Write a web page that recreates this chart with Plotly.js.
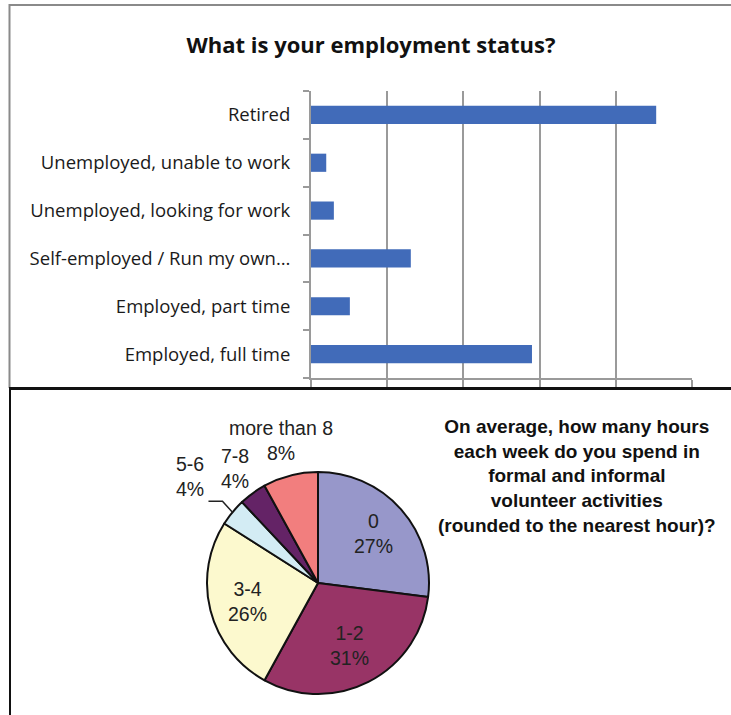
<!DOCTYPE html>
<html>
<head>
<meta charset="utf-8">
<script src="https://cdn.plot.ly/plotly-3.0.1.min.js"></script>
<style>html,body{margin:0;padding:0;background:#fff;}#chart{width:731px;height:715px;}</style>
</head>
<body>
<div id="chart"></div>
<script>
// Bar chart data (bottom to top)
var employmentCategories = ["Employed, full time", "Employed, part time", "Self-employed / Run my own…", "Unemployed, looking for work", "Unemployed, unable to work", "Retired"];
var employmentValues = [29.0, 5.1, 13.1, 3.0, 2.0, 45.3];
var barTitle = "What is your employment status?";

// Pie chart data (clockwise from 12 o'clock)
var hoursLabels = ["0", "1-2", "3-4", "5-6", "7-8", "more than 8"];
var hoursValues = [27, 31, 26, 4, 4, 8];
var pieTitleLines = ["On average, how many hours", "each week do you spend in", "formal and informal", "volunteer activities", "(rounded to the nearest hour)?"];

// Styling / layout constants
var hoursColors = ["#9797CA", "#983466", "#FCF9CE", "#D3ECF4", "#642366", "#F27E7E"];
var pieLabelRadius = [0.67, 0.63, 0.66, 1.5, 1.27, 1.33]; // label distance, in pie radii
var leaderSlice = 3; // slice whose label has a leader line

var W = 731, H = 715;
function px(x){ return x / W; }
function py(y){ return 1 - y / H; }

var pieBox = {x0: 207, x1: 429, y0: 472, y1: 694};
var pieCx = (pieBox.x0 + pieBox.x1) / 2, pieCy = (pieBox.y0 + pieBox.y1) / 2;
var pieR = (pieBox.x1 - pieBox.x0) / 2;

var barTrace = {
  type: "bar",
  orientation: "h",
  y: employmentCategories,
  x: employmentValues,
  marker: {color: "#416BB9"},
  hoverinfo: "x+y",
  xaxis: "x", yaxis: "y"
};

var pieTrace = {
  type: "pie",
  labels: hoursLabels,
  values: hoursValues,
  sort: false,
  direction: "clockwise",
  rotation: 0,
  marker: {colors: hoursColors, line: {color: "#111", width: 2}},
  textinfo: "none",
  showlegend: false,
  domain: {x: [px(pieBox.x0), px(pieBox.x1)], y: [py(pieBox.y1), py(pieBox.y0)]}
};

var gray = "#9a9a9a";
var annotations = [{
  xref: "paper", yref: "paper", x: px(577), y: py(414), xanchor: "center", yanchor: "top",
  showarrow: false, align: "center",
  text: "<b>" + pieTitleLines.join("<br>") + "</b>",
  font: {family: "Liberation Sans, Arial, sans-serif", size: 19, color: "#111"}
}];
var shapes = [
  {type: "line", xref: "paper", yref: "paper", x0: px(9.5), x1: px(9.5), y0: py(4), y1: py(388), line: {color: "#8a8a8a", width: 2}},
  {type: "line", xref: "paper", yref: "paper", x0: px(9), x1: 1, y0: py(5), y1: py(5), line: {color: "#8a8a8a", width: 2}},
  {type: "line", xref: "paper", yref: "paper", x0: px(9), x1: 1, y0: py(388.5), y1: py(388.5), line: {color: "#111", width: 3}},
  {type: "line", xref: "paper", yref: "paper", x0: px(10), x1: px(10), y0: py(388), y1: 0, line: {color: "#111", width: 2}}
];

// Slice labels placed at each slice's mid-angle
var total = hoursValues.reduce(function(a, b){ return a + b; }, 0);
var cum = 0;
for (var i = 0; i < hoursValues.length; i++) {
  var frac = hoursValues[i] / total;
  var mid = (cum + frac / 2) * 2 * Math.PI;
  cum += frac;
  var r = pieLabelRadius[i] * pieR;
  var lx = pieCx + r * Math.sin(mid), ly = pieCy - r * Math.cos(mid);
  annotations.push({
    xref: "paper", yref: "paper", x: px(lx), y: py(ly), xanchor: "center", yanchor: "middle",
    showarrow: false, align: "center",
    text: hoursLabels[i] + "<br>" + Math.round(frac * 100) + "%",
    font: {family: "Liberation Sans, Arial, sans-serif", size: 19.5, color: "#222"}
  });
  if (i === leaderSlice) {
    var ex = pieCx + pieR * Math.sin(mid), ey = pieCy - pieR * Math.cos(mid);
    var bx = ex - 10, by = ey - 11;
    var hx = bx - 14;
    shapes.push({type: "path", xref: "paper", yref: "paper",
      path: "M " + px(ex) + " " + py(ey) + " L " + px(bx) + " " + py(by) + " L " + px(hx) + " " + py(by),
      line: {color: "#222", width: 1.5}});
  }
}

var layout = {
  width: W, height: H,
  margin: {l: 0, r: 0, t: 0, b: 0},
  paper_bgcolor: "#fff", plot_bgcolor: "#fff",
  showlegend: false,
  bargap: 0.62,
  title: {text: "<b>" + barTitle + "</b>", x: px(371), xanchor: "center", y: py(45), yanchor: "middle",
          font: {family: "Open Sans, sans-serif", size: 22, color: "#111"}},
  xaxis: {
    domain: [px(311), px(692)], anchor: "y",
    range: [0, 50], dtick: 10, fixedrange: true,
    showgrid: true, gridcolor: gray, gridwidth: 2,
    zeroline: false, showticklabels: false,
    ticks: "outside", ticklen: 7, tickwidth: 2, tickcolor: gray,
    showline: true, linecolor: gray, linewidth: 2
  },
  yaxis: {
    domain: [py(378), py(91)], anchor: "x",
    type: "category", fixedrange: true,
    tickson: "boundaries",
    ticks: "outside", ticklen: 6, tickwidth: 2, tickcolor: gray,
    showline: true, linecolor: gray, linewidth: 2,
    showgrid: false, zeroline: false,
    ticklabelstandoff: 15,
    tickfont: {family: "Open Sans, sans-serif", size: 18.5, color: "#1a1a1a"}
  },
  annotations: annotations,
  shapes: shapes
};

Plotly.newPlot("chart", [barTrace, pieTrace], layout, {displayModeBar: false, staticPlot: true});
</script>
</body>
</html>
